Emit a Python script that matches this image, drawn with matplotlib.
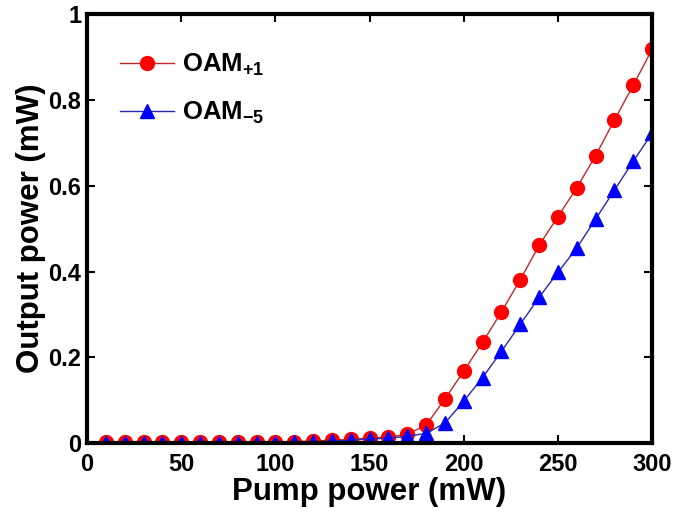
import matplotlib.pyplot as plt

# --- DATA ---
pump = list(range(10, 310, 10))
oam_p1 = [0.002, 0.002, 0.002, 0.002, 0.002, 0.002, 0.002, 0.002, 0.002, 0.002,
          0.004, 0.005, 0.007, 0.009, 0.012, 0.014, 0.021, 0.042, 0.103, 0.168,
          0.235, 0.306, 0.381, 0.461, 0.528, 0.595, 0.670, 0.753, 0.834, 0.918]
oam_m5 = [0.001, 0.001, 0.001, 0.001, 0.001, 0.001, 0.001, 0.001, 0.001, 0.001,
          0.002, 0.003, 0.005, 0.007, 0.010, 0.012, 0.016, 0.023, 0.047, 0.098,
          0.153, 0.214, 0.277, 0.340, 0.398, 0.455, 0.522, 0.590, 0.657, 0.722]
labels = ['$OAM_{+1}$', '$OAM_{-5}$']

plt.rcParams['font.family'] = 'Liberation Sans'
plt.rcParams['font.weight'] = 'bold'
plt.rcParams['mathtext.fontset'] = 'custom'
plt.rcParams['mathtext.bf'] = 'Liberation Sans:bold'
plt.rcParams['mathtext.rm'] = 'Liberation Sans:bold'
plt.rcParams['mathtext.it'] = 'Liberation Sans:bold'
plt.rcParams['mathtext.default'] = 'bf'

fig = plt.figure(figsize=(6.85, 5.19), dpi=100)
ax = fig.add_axes([0.127, 0.146, 0.825, 0.827])

ax.plot(pump, oam_p1, '-', color='#c02828', lw=1,
        marker='o', markersize=10, markerfacecolor='red', markeredgecolor='red',
        label=labels[0])
ax.plot(pump, oam_m5, '-', color='#2828b0', lw=1,
        marker='^', markersize=10, markerfacecolor='blue', markeredgecolor='blue',
        label=labels[1])

ax.set_xlim(0, 300)
ax.set_ylim(0, 1)
ax.set_xticks([0, 50, 100, 150, 200, 250, 300])
ax.set_yticks([0, 0.2, 0.4, 0.6, 0.8, 1])
ax.set_yticklabels(['0', '0.2', '0.4', '0.6', '0.8', '1'])
ax.tick_params(direction='in', top=True, right=True, length=6, width=1.5,
               labelsize=17)
ax.tick_params(axis='x', pad=7)
ax.tick_params(axis='y', pad=4)
for s in ax.spines.values():
    s.set_linewidth(3)

ax.set_xlabel('Pump power (mW)', fontsize=22.5, fontweight='bold', labelpad=1)
ax.set_ylabel('Output power (mW)', fontsize=22.5, fontweight='bold', labelpad=2)

ax.legend(loc='upper left', frameon=False, fontsize=18.5, handlelength=2.1,
          handletextpad=0.3, borderaxespad=0.4, labelspacing=0.85,
          bbox_to_anchor=(0.022, 0.96))

plt.savefig('out.png', dpi=100)
